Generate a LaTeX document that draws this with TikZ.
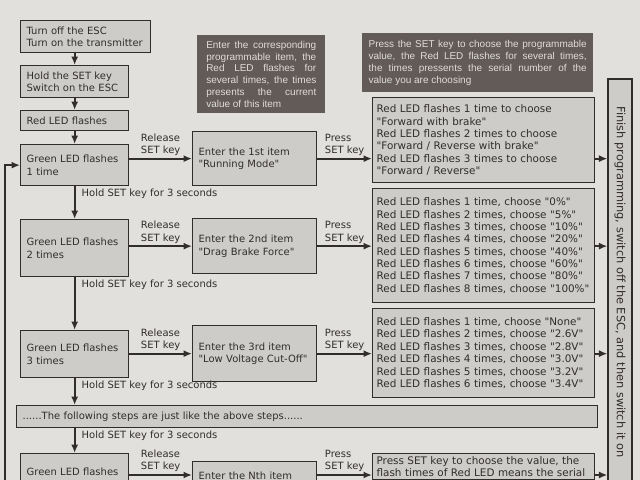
\documentclass[tikz,border=0pt]{standalone}
\usepackage{fontspec}
\setmainfont{DejaVu Sans}[Ligatures=TeXOff]
\newfontfamily\notefont{Liberation Sans}
\usetikzlibrary{positioning, arrows.meta, calc}

\definecolor{paper}{RGB}{226,224,220}
\definecolor{boxgray}{RGB}{206,204,201}
\definecolor{ink}{RGB}{48,45,43}
\definecolor{notegray}{RGB}{98,91,88}
\definecolor{notetext}{RGB}{224,221,218}

\begin{document}
\begin{tikzpicture}[
    x=0.025cm, y=-0.025cm,
    box/.style={draw=ink, fill=boxgray, line width=0.9pt, anchor=north west, align=left,
                inner xsep=0.15cm, inner ysep=2pt, text=ink, font=\fontsize{7.1}{8.8}\selectfont},
    valbox/.style={box, inner xsep=0.1cm, font=\fontsize{7.4}{8.8}\selectfont},
    note/.style={fill=notegray, anchor=north west, align=justify, text=notetext,
                 font=\notefont\fontsize{7.1}{8.4}\selectfont},
    lbl/.style={text=ink, align=left, inner sep=1.5pt, font=\fontsize{7.1}{8.8}\selectfont},
    arr/.style={-{Latex[length=6pt, width=5pt]}, line width=1.3pt, draw=ink},
]

% Page
\path[use as bounding box, fill=paper] (0,0) rectangle (640,480);
\clip (0,0) rectangle (640,480);

% Start column
\node[box, text width=2.95cm, minimum height=0.8cm] (start) at (20,20) {Turn off the ESC\\Turn on the transmitter};
\node[box, text width=2.4cm, minimum height=0.8cm] (hold) at (20,65) {Hold the SET key\\Switch on the ESC};
\node[box, text width=2.4cm, minimum height=0.5cm] (red) at (20,110) {Red LED flashes};

% Green LED steps
\node[box, text width=2.4cm, minimum height=1.025cm] (g1) at (20,144) {Green LED flashes\\1 time};
\node[box, text width=2.4cm, minimum height=1.425cm] (g2) at (20,219) {Green LED flashes\\2 times};
\node[box, text width=2.4cm, minimum height=1.175cm] (g3) at (20,330) {Green LED flashes\\3 times};
\node[box, text width=14.225cm, minimum height=0.55cm] (follow) at (16,405) {......The following steps are just like the above steps......};
\node[box, text width=2.4cm, minimum height=1.2cm] (gN) at (20,453) {Green LED flashes\\ \mbox{}};

% Programmable items
\node[box, text width=2.8cm, minimum height=1.35cm] (e1) at (192,131) {Enter the 1st item\\"Running Mode"};
\node[box, text width=2.8cm, minimum height=1.375cm] (e2) at (192,218) {Enter the 2nd item\\"Drag Brake Force"};
\node[box, text width=2.8cm, minimum height=1.4cm] (e3) at (192,325) {Enter the 3rd item\\"Low Voltage Cut-Off"};
\node[box, text width=2.8cm, minimum height=1.0cm] (eN) at (192,461) {Enter the Nth item\\ \mbox{}};

% Values
\node[valbox, text width=5.35cm, minimum height=2.125cm] (r1) at (372,97) {Red LED flashes 1 time to choose\\"Forward with brake"\\Red LED flashes 2 times to choose\\"Forward / Reverse with brake"\\Red LED flashes 3 times to choose\\"Forward / Reverse"};
\node[valbox, text width=5.35cm, minimum height=2.85cm] (r2) at (372,188) {Red LED flashes 1 time, choose "0\%"\\Red LED flashes 2 times, choose "5\%"\\Red LED flashes 3 times, choose "10\%"\\Red LED flashes 4 times, choose "20\%"\\Red LED flashes 5 times, choose "40\%"\\Red LED flashes 6 times, choose "60\%"\\Red LED flashes 7 times, choose "80\%"\\Red LED flashes 8 times, choose "100\%"};
\node[valbox, text width=5.35cm, minimum height=2.225cm] (r3) at (372,308) {Red LED flashes 1 time, choose "None"\\Red LED flashes 2 times, choose "2.6V"\\Red LED flashes 3 times, choose "2.8V"\\Red LED flashes 4 times, choose "3.0V"\\Red LED flashes 5 times, choose "3.2V"\\Red LED flashes 6 times, choose "3.4V"};
\node[valbox, text width=5.35cm] (rN) at (372,453) {Press SET key to choose the value, the\\flash times of Red LED means the serial};

% Finish bar
\node[box, rotate=-90, anchor=center, align=center, minimum width=10.15cm, minimum height=0.6cm,
      font=\fontsize{8.1}{9}\selectfont] (finish) at (620,282) {Finish programming, switch off the ESC, and then switch it on};

% Notes
\node[note, text width=2.75cm, inner xsep=0.225cm, minimum height=1.95cm] (noteA) at (197,35) {Enter the corresponding\linebreak programmable item, the\linebreak Red LED flashes for\linebreak several times, the times\linebreak presents the current\linebreak value of this item};
\node[note, text width=5.45cm, inner xsep=0.16cm, minimum height=1.475cm] (noteB) at (362,33) {Press the SET key to choose the programmable\linebreak value, the Red LED flashes for several times,\linebreak the times pressents the serial number of the\linebreak value you are choosing};

% Vertical arrows
\draw[arr] (hold.north |- start.south) -- (hold.north);
\draw[arr] (hold.south) -- (red.north);
\draw[arr] (red.south) -- (g1.north);
\draw[arr] (g1.south) -- node[lbl, at start, anchor=north west, xshift=0.1cm] {Hold SET key for 3 seconds} (g2.north);
\draw[arr] (g2.south) -- node[lbl, at start, anchor=north west, xshift=0.1cm] {Hold SET key for 3 seconds} (g3.north);
\draw[arr] (g3.south) -- node[lbl, at start, anchor=north west, xshift=0.1cm] {Hold SET key for 3 seconds} (g3.south |- follow.north);
\draw[arr] (gN.north |- follow.south) -- node[lbl, at start, anchor=north west, xshift=0.1cm] {Hold SET key for 3 seconds} (gN.north);

% Rows
\draw[arr] (e1.west -| g1.east) -- node[lbl, above] {Release\\SET key} (e1.west);
\draw[arr] (e1.east) -- node[lbl, above] {Press\\SET key} (e1.east -| r1.west);
\draw[arr] (r1.east |- e1.east) -- (e1.east -| finish.south);

\draw[arr] (e2.west -| g2.east) -- node[lbl, above] {Release\\SET key} (e2.west);
\draw[arr] (e2.east) -- node[lbl, above] {Press\\SET key} (e2.east -| r2.west);
\draw[arr] (r2.east |- e2.east) -- (e2.east -| finish.south);

\draw[arr] (e3.west -| g3.east) -- node[lbl, above] {Release\\SET key} (e3.west);
\draw[arr] (e3.east) -- node[lbl, above] {Press\\SET key} (e3.east -| r3.west);
\draw[arr] (r3.east |- e3.east) -- (e3.east -| finish.south);

\coordinate (rowN) at (0,475);
\draw[arr] (gN.east |- rowN) -- node[lbl, above] {Release\\SET key} (eN.west |- rowN);
\draw[arr] (eN.east |- rowN) -- node[lbl, above] {Press\\SET key} (rN.west |- rowN);
\draw[arr] (rN.east |- rowN) -- (finish.south |- rowN);

% Loop back
\coordinate (loopend) at (5,500);
\draw[arr] (loopend) |- (g1.west);

\end{tikzpicture}
\end{document}
